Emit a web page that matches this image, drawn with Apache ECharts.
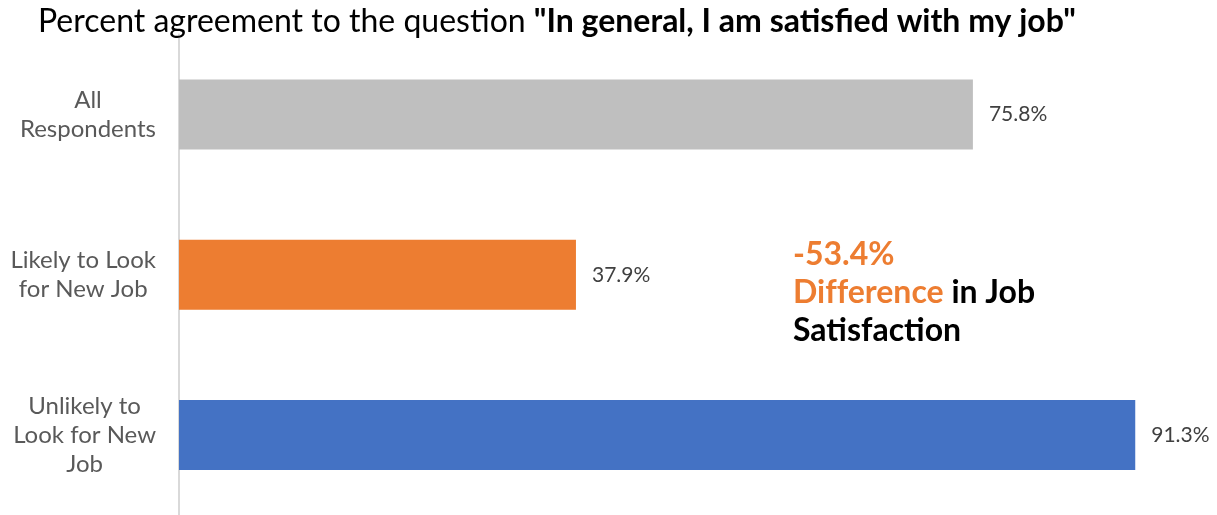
<!DOCTYPE html>
<html>
<head>
<meta charset="utf-8">
<title>Job satisfaction</title>
<script src="https://cdn.jsdelivr.net/npm/echarts@6/dist/echarts.min.js"></script>
<style>
  html, body { margin: 0; padding: 0; background: #ffffff; }
  #chart { width: 1217px; height: 515px; }
</style>
</head>
<body>
<div id="chart"></div>
<script>
// Groups, listed top to bottom
const categories = ['All\nRespondents', 'Likely to Look\nfor New Job', 'Unlikely to\nLook for New\nJob'];
// Percent agreeing with "In general, I am satisfied with my job"
const agreement = [75.8, 37.9, 91.3];
const barColors = ['#BFBFBF', '#ED7D31', '#4472C4'];
const differenceLabel = '-53.4%';

const font = 'Lato, "Noto Sans", sans-serif';
const chart = echarts.init(document.getElementById('chart'), null, { renderer: 'canvas' });

chart.setOption({
  animation: false,
  title: {
    left: 38,
    top: 6,
    padding: 0,
    text: '{n|Percent agreement to the question }{b|"In general, I am satis\u200Cfied with my job"}',
    textStyle: {
      rich: {
        n: { fontFamily: font, fontSize: 32, color: '#000000', fontWeight: 'normal' },
        b: { fontFamily: font, fontSize: 32, color: '#000000', fontWeight: 'bold' }
      }
    }
  },
  grid: { left: 179, top: 34.5, height: 483, width: 995 },
  xAxis: {
    type: 'value',
    min: 0,
    max: 95,
    show: false
  },
  yAxis: {
    type: 'category',
    inverse: true,
    data: categories,
    axisLine: { show: true, lineStyle: { color: '#D9D9D9', width: 2 } },
    axisTick: { show: false },
    axisLabel: {
      margin: 23,
      align: 'right',
      // each line is centred inside the label block
      formatter: v => v.split('\n').map(s => '{c|' + s + '}').join('\n'),
      rich: {
        c: { align: 'center', fontFamily: font, fontSize: 24, lineHeight: 29, color: '#595959' }
      }
    }
  },
  series: [{
    type: 'bar',
    barWidth: 70,
    data: agreement.map((v, i) => ({ value: v, itemStyle: { color: barColors[i] } })),
    label: {
      show: true,
      position: 'right',
      distance: 16,
      formatter: p => p.value.toFixed(1) + '%',
      fontFamily: font,
      fontSize: 21,
      color: '#404040'
    }
  }],
  graphic: [{
    type: 'text',
    left: 793,
    top: 239,
    style: {
      text: '{o|' + differenceLabel + '}\n{o|Dif\u200Cference}{k| in Job}\n{k|Satisfaction}',
      rich: {
        o: { fontFamily: font, fontSize: 32, fontWeight: 'bold', fill: '#ED7D31', lineHeight: 38 },
        k: { fontFamily: font, fontSize: 32, fontWeight: 'bold', fill: '#000000', lineHeight: 38 }
      }
    }
  }]
});
</script>
</body>
</html>
